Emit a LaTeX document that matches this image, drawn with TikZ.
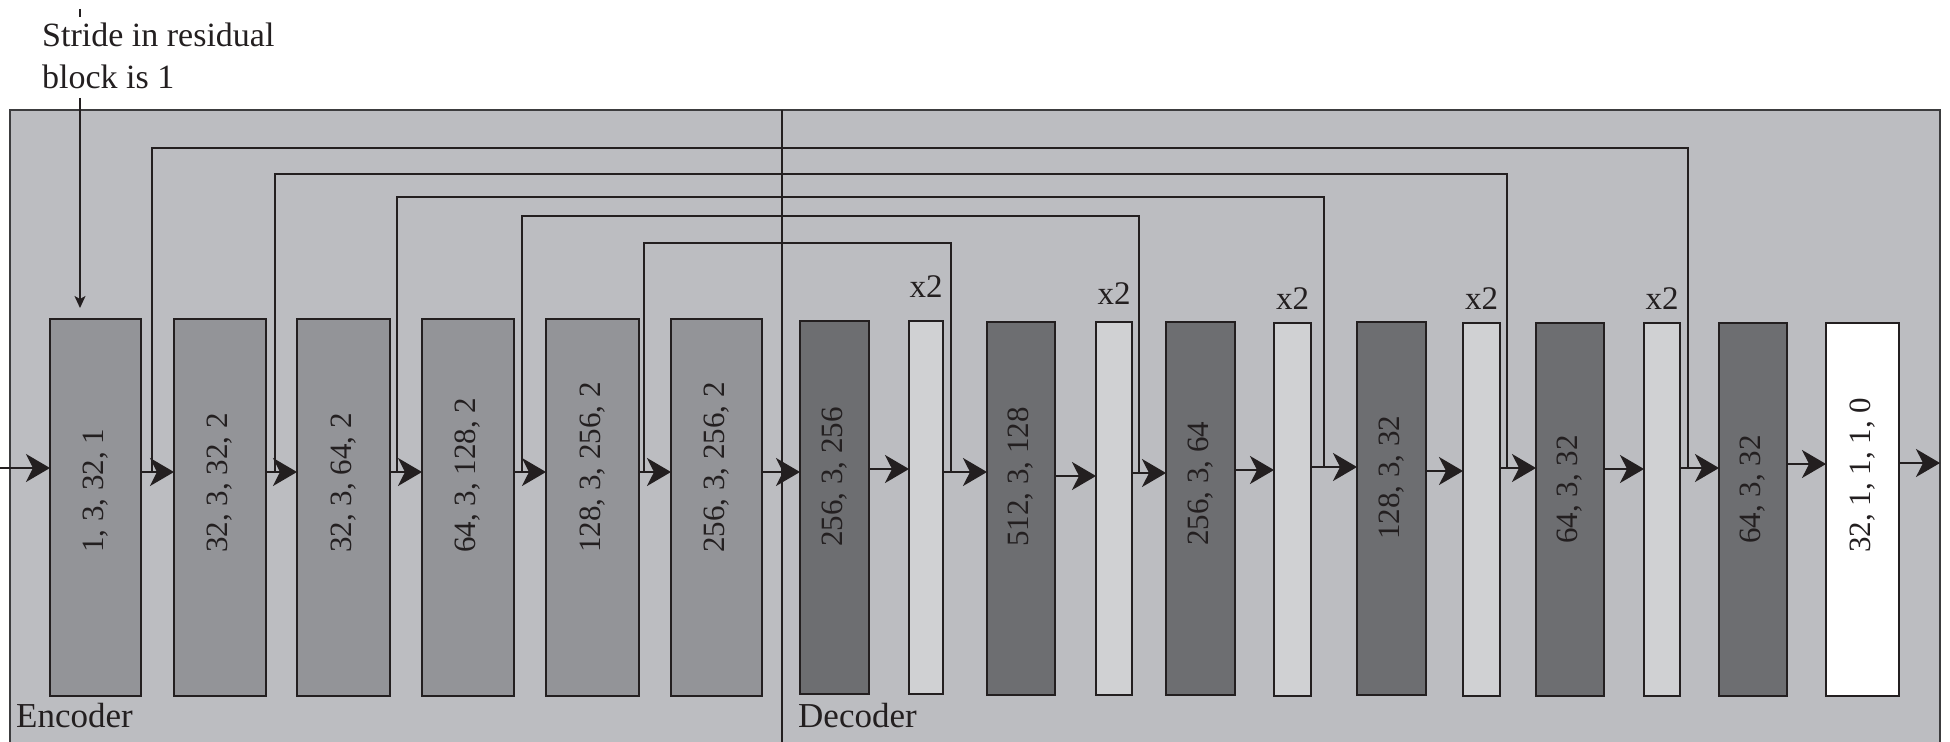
\documentclass[tikz,border=0pt]{standalone}
\usepackage{fontspec}
\setmainfont{Liberation Serif}
\usetikzlibrary{arrows.meta}
\definecolor{bgc}{RGB}{188,189,193}
\definecolor{encc}{RGB}{147,148,152}
\definecolor{darkc}{RGB}{109,110,113}
\definecolor{lightc}{RGB}{208,209,211}
\definecolor{lc}{RGB}{35,31,32}
\definecolor{framec}{RGB}{60,60,62}
\tikzset{
 conn/.style={draw=lc, line width=1.6pt},
 arr/.style={conn, -{Stealth[length=24pt,width=28pt,inset=7pt]}},
 sarr/.style={conn, -{Stealth[length=12pt,width=11pt,inset=3pt]}},
 blk/.style={draw=lc, line width=1.8pt, inner sep=0pt, outer sep=0pt, anchor=north west},
 enc/.style={blk, fill=encc, minimum height=377pt},
 dk/.style={blk, fill=darkc, minimum height=373pt},
 lt/.style={blk, fill=lightc, minimum height=373pt},
 wt/.style={blk, fill=white, minimum height=373pt},
 lbl/.style={rotate=90, anchor=west, inner sep=0pt, font=\fontsize{31}{31}\selectfont, text=lc},
 xlbl/.style={anchor=base, inner sep=0pt, font=\fontsize{33}{33}\selectfont, text=lc},
 sec/.style={anchor=base west, inner sep=0pt, font=\fontsize{35}{35}\selectfont, text=lc},
}
\begin{document}
\begin{tikzpicture}[x=1pt,y=-1pt]
\useasboundingbox (0,0) rectangle (1950,741);
% frame
\draw[fill=bgc, draw=framec, line width=2pt] (10,110) rectangle (1940,790);
\draw[conn] (782,110) -- (782,790);
% encoder blocks
\node[enc, minimum width=91pt] (b1) at (50,319) {};
\node[enc, minimum width=92pt] (b2) at (174,319) {};
\node[enc, minimum width=93pt] (b3) at (297,319) {};
\node[enc, minimum width=92pt] (b4) at (422,319) {};
\node[enc, minimum width=93pt] (b5) at (546,319) {};
\node[enc, minimum width=91pt] (b6) at (671,319) {};
% decoder blocks
\node[dk, minimum width=69pt] (d7) at (800,321) {};
\node[lt, minimum width=34pt] (l8) at (909,321) {};
\node[dk, minimum width=68pt] (d9) at (987,322) {};
\node[lt, minimum width=36pt] (l10) at (1096,322) {};
\node[dk, minimum width=69pt] (d11) at (1166,322) {};
\node[lt, minimum width=37pt] (l12) at (1274,323) {};
\node[dk, minimum width=69pt] (d13) at (1357,322) {};
\node[lt, minimum width=37pt] (l14) at (1463,323) {};
\node[dk, minimum width=68pt] (d15) at (1536,323) {};
\node[lt, minimum width=36pt] (l16) at (1644,323) {};
\node[dk, minimum width=68pt] (d17) at (1719,323) {};
\node[wt, minimum width=73pt] (w18) at (1826,323) {};
% labels
\node[lbl] at (b1.center |- 0,553) {1, 3, 32, 1};
\node[lbl] at (b2.center |- 0,553) {32, 3, 32, 2};
\node[lbl] at (b3.center |- 0,553) {32, 3, 64, 2};
\node[lbl] at (b4.center |- 0,553) {64, 3, 128, 2};
\node[lbl] at (b5.center |- 0,553) {128, 3, 256, 2};
\node[lbl] at (b6.center |- 0,553) {256, 3, 256, 2};
\node[lbl] at (d7.center |- 0,547) {256, 3, 256};
\node[lbl] at (d9.center |- 0,547) {512, 3, 128};
\node[lbl] at (d11.center |- 0,546) {256, 3, 64};
\node[lbl] at (d13.center |- 0,540) {128, 3, 32};
\node[lbl] at (d15.center |- 0,544) {64, 3, 32};
\node[lbl] at (d17.center |- 0,544) {64, 3, 32};
\node[lbl] at (w18.center |- 0,553) {32, 1, 1, 1, 0};
% x2 labels
\node[xlbl] at (l8.north |- 0,297) {x2};
\node[xlbl] at (l10.north |- 0,304) {x2};
\node[xlbl] at (l12.north |- 0,309) {x2};
\node[xlbl] at (l14.north |- 0,309) {x2};
\node[xlbl] at (l16.north |- 0,309) {x2};
% section labels
\node[sec] at (16,727) {Encoder};
\node[sec] at (798,727) {Decoder};
% skip connections
\draw[conn] ([xshift=11pt]b1.east |- 0,472) coordinate (a1) -- (a1 |- 0,148) -| ([xshift=8pt]l16.east |- 0,468);
\draw[conn] ([xshift=9pt]b2.east |- 0,472) coordinate (a2) -- (a2 |- 0,174) -| ([xshift=7pt]l14.east |- 0,468);
\draw[conn] ([xshift=7pt]b3.east |- 0,472) coordinate (a3) -- (a3 |- 0,197) -| ([xshift=13pt]l12.east |- 0,467);
\draw[conn] ([xshift=8pt]b4.east |- 0,472) coordinate (a4) -- (a4 |- 0,216) -| ([xshift=7pt]l10.east |- 0,473);
\draw[conn] ([xshift=5pt]b5.east |- 0,472) coordinate (a5) -- (a5 |- 0,243) -| ([xshift=8pt]l8.east |- 0,472);
% main flow
\coordinate (in) at (0,468);
\coordinate (out) at (1940,463);
\draw[arr] (in) -- (in -| b1.west);
\foreach \a/\b/\yy in {b1/b2/472, b2/b3/472, b3/b4/472, b4/b5/472, b5/b6/472, b6/d7/472,
  d7/l8/469, l8/d9/472, d9/l10/476, l10/d11/473, d11/l12/470, l12/d13/467, d13/l14/471,
  l14/d15/468, d15/l16/469, l16/d17/468, d17/w18/464}
  \draw[arr] (\a.east |- 0,\yy) -- (\b.west |- 0,\yy);
\draw[arr] (w18.east |- out) -- (out);
% stride note
\node[anchor=north west, inner sep=0pt, align=left, font=\fontsize{34}{42}\selectfont, text=lc] (note) at (42,23) {Stride in residual\\block is 1};
\coordinate (st) at (80,98);
\draw[sarr] (st) -- ([yshift=11pt]b1.north -| st);
\draw[conn] (80,9) -- (80,17);
\end{tikzpicture}
\end{document}
